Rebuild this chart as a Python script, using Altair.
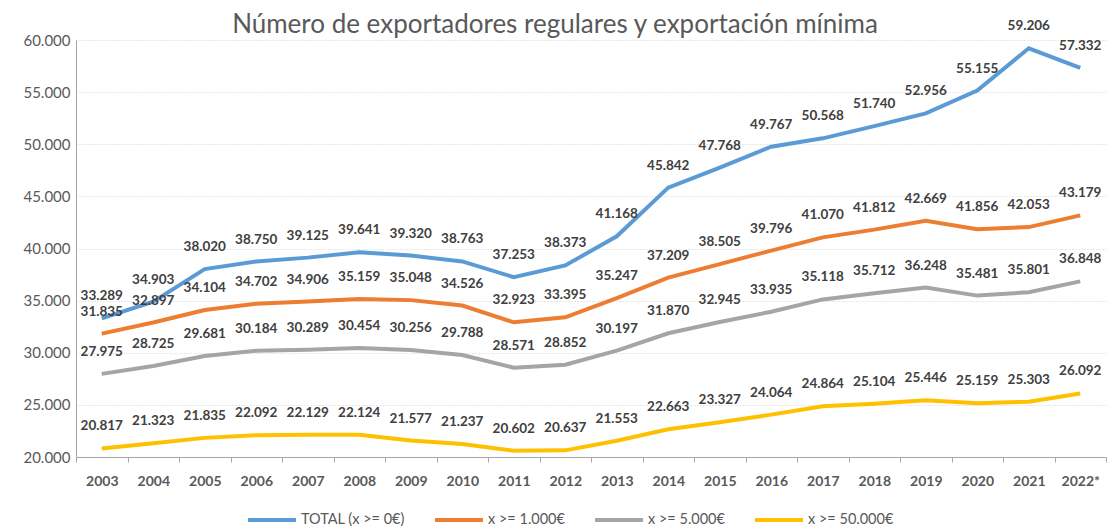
import altair as alt
import pandas as pd

years = ["2003", "2004", "2005", "2006", "2007", "2008", "2009", "2010", "2011", "2012",
         "2013", "2014", "2015", "2016", "2017", "2018", "2019", "2020", "2021", "2022*"]
series_names = ["TOTAL (x >= 0€)", "x >= 1.000€", "x >= 5.000€", "x >= 50.000€"]
total = [33289, 34903, 38020, 38750, 39125, 39641, 39320, 38763, 37253, 38373,
         41168, 45842, 47768, 49767, 50568, 51740, 52956, 55155, 59206, 57332]
x1000 = [31835, 32897, 34104, 34702, 34906, 35159, 35048, 34526, 32923, 33395,
         35247, 37209, 38505, 39796, 41070, 41812, 42669, 41856, 42053, 43179]
x5000 = [27975, 28725, 29681, 30184, 30289, 30454, 30256, 29788, 28571, 28852,
         30197, 31870, 32945, 33935, 35118, 35712, 36248, 35481, 35801, 36848]
x50000 = [20817, 21323, 21835, 22092, 22129, 22124, 21577, 21237, 20602, 20637,
          21553, 22663, 23327, 24064, 24864, 25104, 25446, 25159, 25303, 26092]
colors = ["#5B9BD5", "#ED7D31", "#A5A5A5", "#FFC000"]

rows = []
for name, vals in zip(series_names, [total, x1000, x5000, x50000]):
    for y, v in zip(years, vals):
        rows.append({"year": y, "serie": name, "value": v,
                     "label": f"{v:,}".replace(",", ".")})
df = pd.DataFrame(rows)

FONT = "Lato"

x_enc = alt.X("year:N", sort=years, title=None,
              scale=alt.Scale(paddingInner=0, paddingOuter=0),
              axis=alt.Axis(labelAngle=0, labelFontWeight="bold", labelFontSize=14,
                            labelColor="#595959", tickBand="extent", tickColor="#A6A6A6",
                            domainColor="#A6A6A6", tickSize=5, labelPadding=12, grid=False))
y_enc = alt.Y("value:Q", title=None,
              scale=alt.Scale(domain=[20000, 60000], nice=False, zero=False),
              axis=alt.Axis(values=list(range(20000, 60001, 5000)),
                            labelExpr="replace(format(datum.value, ',.0f'), ',', '.')",
                            labelFontSize=15, labelColor="#595959", labelPadding=6,
                            ticks=False, domain=True, domainColor="#A6A6A6",
                            gridColor="#D0D0D0", gridDash=[1, 2]))

color_enc = alt.Color("serie:N", sort=series_names,
                      scale=alt.Scale(domain=series_names, range=colors),
                      legend=alt.Legend(orient="none", legendX=170, legendY=454,
                                        direction="horizontal", title=None,
                                        symbolType="stroke", symbolStrokeWidth=4,
                                        symbolSize=2300, labelFontSize=14.5,
                                        labelOffset=3,
                                        labelColor="#595959", columnPadding=22))

lines = alt.Chart(df).mark_line(strokeWidth=4, interpolate="linear").encode(
    x=x_enc, y=y_enc, color=color_enc)

labels = alt.Chart(df).mark_text(dy=-22, fontWeight="bold", fontSize=13.5,
                                 color="#404040", font=FONT).encode(
    x=alt.X("year:N", sort=years), y="value:Q", text="label:N")

chart = (lines + labels).properties(
    width=1030, height=417,
    title=alt.TitleParams("Número de exportadores regulares y exportación mínima",
                          fontSize=26, fontWeight="normal", color="#595959",
                          font=FONT, offset=-19, dx=-36),
    padding={"left": 14, "right": 0, "top": 4, "bottom": 0},
).configure(font=FONT).configure_view(stroke=None)

chart.save("out.html", embed_options={"renderer": "svg", "actions": False})
